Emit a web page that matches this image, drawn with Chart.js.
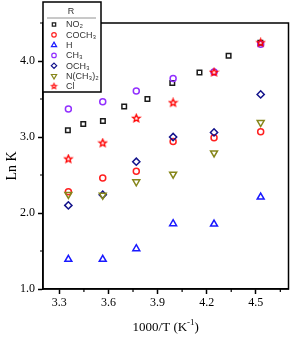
<!DOCTYPE html>
<html>
<head>
<meta charset="utf-8">
<script src="https://cdn.jsdelivr.net/npm/chart.js@4.4.1/dist/chart.umd.min.js"></script>
<style>
  body { margin: 0; background: #fff; }
  canvas { display: block; }
</style>
</head>
<body>
<canvas id="lnk-chart" width="294" height="337"></canvas>
<script>
// BEGIN: DATA
const xMain = [3.355, 3.565, 3.77, 3.995, 4.245, 4.53];
const xNO2 = [3.352, 3.446, 3.566, 3.696, 3.838, 3.99, 4.156, 4.334, 4.528];

const no2 = [3.09, 3.17, 3.21, 3.40, 3.50, 3.71, 3.85, 4.07, 4.24];
const coch3 = [2.28, 2.46, 2.55, 2.94, 2.99, 3.07];
const hydro = [1.39, 1.39, 1.53, 1.86, 1.855, 2.21];
const ch3 = [3.37, 3.465, 3.605, 3.77, 3.855, 4.22];
const och3 = [2.10, 2.24, 2.675, 3.0, 3.06, 3.56];
const nme2 = [2.245, 2.235, 2.41, 2.51, 2.79, 3.19];
const cl = [2.71, 2.92, 3.245, 3.45, 3.85, 4.24];

const seriesNames = ["NO₂", "COCH₃", "H", "CH₃", "OCH₃", "N(CH₃)₂", "Cl"];
const xTicks = [3.3, 3.6, 3.9, 4.2, 4.5];
const xMinor = [3.45, 3.75, 4.05, 4.35, 4.65];
const yTicks = [1, 2, 3, 4];
const yMinor = [1.5, 2.5, 3.5, 4.5];
// END: DATA

const pts = (xs, ys) => ys.map((y, i) => ({ x: xs[i], y: y }));

// hollow five point star, used as an image point style
const makeStar = (color, outer, inner, lw) => {
  const c = document.createElement("canvas");
  const s = Math.ceil(outer * 2 + 3);
  c.width = s;
  c.height = s;
  const g = c.getContext("2d");
  g.strokeStyle = color;
  g.lineWidth = lw;
  g.beginPath();
  for (let i = 0; i < 10; i++) {
    const r = i % 2 === 0 ? outer : inner;
    const a = -Math.PI / 2 + (i * Math.PI) / 5;
    const px = s / 2 + r * Math.cos(a);
    const py = s / 2 + r * Math.sin(a);
    if (i === 0) g.moveTo(px, py);
    else g.lineTo(px, py);
  }
  g.closePath();
  g.stroke();
  return c;
};
const starBig = makeStar("#ff0000", 3.8, 1.7, 1.4);
const starSmall = makeStar("#ff0000", 2.7, 1.2, 1.1);

const styles = [
  { color: "#1a1a1a", pointStyle: "rect", radius: 3.2, rotation: 0 },
  { color: "#ff2020", pointStyle: "circle", radius: 3.0, rotation: 0 },
  { color: "#1a1aff", pointStyle: "triangle", radius: 4.0, rotation: 0 },
  { color: "#9230ff", pointStyle: "circle", radius: 3.0, rotation: 0 },
  { color: "#14148c", pointStyle: "rectRot", radius: 3.6, rotation: 0 },
  { color: "#86861a", pointStyle: "triangle", radius: 4.0, rotation: 180 },
  { color: "#ff0000", pointStyle: starBig, radius: 4, rotation: 0 },
];
const seriesData = [
  pts(xNO2, no2),
  pts(xMain, coch3),
  pts(xMain, hydro),
  pts(xMain, ch3),
  pts(xMain, och3),
  pts(xMain, nme2),
  pts(xMain, cl),
];

const datasets = seriesNames.map((name, i) => ({
  label: name,
  data: seriesData[i],
  pointStyle: styles[i].pointStyle,
  pointRadius: styles[i].radius,
  rotation: styles[i].rotation,
  borderColor: styles[i].color,
  backgroundColor: "rgba(0,0,0,0)",
  pointBorderWidth: 1.5,
  showLine: false,
  order: 10 - i, // later series on top
}));

// BEGIN: FRAME, MINOR TICKS, TITLES, LEGEND
const extras = {
  id: "extras",
  beforeDatasetsDraw(chart) {
    const { ctx, chartArea: a, scales } = chart;
    ctx.save();
    ctx.strokeStyle = "#000";
    ctx.lineWidth = 1.5;
    ctx.strokeRect(a.left, a.top, a.right - a.left, a.bottom - a.top);
    ctx.lineWidth = 1.2;
    ctx.beginPath();
    xMinor.forEach((v) => {
      const px = scales.x.getPixelForValue(v);
      ctx.moveTo(px, a.bottom);
      ctx.lineTo(px, a.bottom + 3);
    });
    yMinor.forEach((v) => {
      const py = scales.y.getPixelForValue(v);
      ctx.moveTo(a.left, py);
      ctx.lineTo(a.left - 3, py);
    });
    ctx.stroke();
    ctx.restore();
  },
  afterDraw(chart) {
    const { ctx, chartArea: a } = chart;
    ctx.save();

    // axis titles
    ctx.fillStyle = "#000";
    ctx.textBaseline = "middle";
    ctx.font = "13px 'Liberation Serif'";
    const base = "1000/T (K";
    const sup = "-1";
    const tail = ")";
    const wBase = ctx.measureText(base).width;
    const wTail = ctx.measureText(tail).width;
    ctx.font = "9px 'Liberation Serif'";
    const wSup = ctx.measureText(sup).width;
    let tx = (a.left + a.right) / 2 - (wBase + wSup + wTail) / 2;
    const ty = 328;
    ctx.textAlign = "left";
    ctx.font = "13px 'Liberation Serif'";
    ctx.fillText(base, tx, ty);
    ctx.font = "9px 'Liberation Serif'";
    ctx.fillText(sup, tx + wBase, ty - 5);
    ctx.font = "13px 'Liberation Serif'";
    ctx.fillText(tail, tx + wBase + wSup, ty);

    ctx.translate(12, 166);
    ctx.rotate(-Math.PI / 2);
    ctx.textAlign = "center";
    ctx.font = "14px 'Liberation Serif'";
    ctx.fillText("Ln K", 0, 0);
    ctx.setTransform(1, 0, 0, 1, 0, 0);

    // legend box
    const bx = 43, by = 2, bw = 58, bh = 90;
    ctx.fillStyle = "#fff";
    ctx.fillRect(bx, by, bw, bh);
    ctx.strokeStyle = "#000";
    ctx.lineWidth = 1.5;
    ctx.strokeRect(bx, by, bw, bh);

    ctx.fillStyle = "#333";
    ctx.font = "9px 'Liberation Sans'";
    ctx.textAlign = "center";
    ctx.fillText("R", 71, 12);
    ctx.strokeStyle = "#777";
    ctx.lineWidth = 0.8;
    ctx.beginPath();
    ctx.moveTo(47, 18);
    ctx.lineTo(96, 18);
    ctx.stroke();

    ctx.textAlign = "left";
    seriesNames.forEach((name, i) => {
      const ly = 24.5 + i * 10.3;
      const st = styles[i];
      ctx.strokeStyle = st.color;
      ctx.fillStyle = "rgba(0,0,0,0)";
      ctx.lineWidth = 1.2;
      Chart.helpers.drawPoint(
        ctx,
        {
          pointStyle: st.pointStyle === starBig ? starSmall : st.pointStyle,
          rotation: st.rotation,
          radius: st.radius * 0.75,
          borderWidth: 1.2,
        },
        54,
        ly
      );
      ctx.fillStyle = "#333";
      ctx.fillText(name, 66, ly + 0.5);
    });
    ctx.restore();
  },
};
// END: FRAME, MINOR TICKS, TITLES, LEGEND

new Chart(document.getElementById("lnk-chart"), {
  type: "scatter",
  data: { datasets: datasets },
  options: {
    responsive: false,
    animation: false,
    devicePixelRatio: 1,
    layout: { padding: { top: 23, right: 4, left: 0, bottom: 0 } },
    plugins: {
      legend: { display: false },
      tooltip: { enabled: false },
    },
    scales: {
      x: {
        type: "linear",
        min: 3.2,
        max: 4.7,
        afterBuildTicks: (s) => {
          s.ticks = xTicks.map((v) => ({ value: v }));
        },
        afterFit: (s) => {
          s.height = 48;
        },
        grid: {
          drawOnChartArea: false,
          drawTicks: true,
          tickLength: 5,
          tickWidth: 1.5,
          tickColor: "#000",
        },
        border: { display: true, color: "#000", width: 1.5 },
        ticks: {
          color: "#000",
          padding: 2,
          maxRotation: 0,
          font: { family: "'Liberation Serif'", size: 12 },
          callback: (v) => Number(v).toFixed(1),
        },
      },
      y: {
        type: "linear",
        min: 1,
        max: 4.5,
        afterBuildTicks: (s) => {
          s.ticks = yTicks.map((v) => ({ value: v }));
        },
        afterFit: (s) => {
          s.width = 43;
        },
        grid: {
          drawOnChartArea: false,
          drawTicks: true,
          tickLength: 5,
          tickWidth: 1.5,
          tickColor: "#000",
        },
        border: { display: true, color: "#000", width: 1.5 },
        ticks: {
          color: "#000",
          padding: 3,
          font: { family: "'Liberation Serif'", size: 12 },
          callback: (v) => Number(v).toFixed(1),
        },
      },
    },
  },
  plugins: [extras],
});
</script>
</body>
</html>
